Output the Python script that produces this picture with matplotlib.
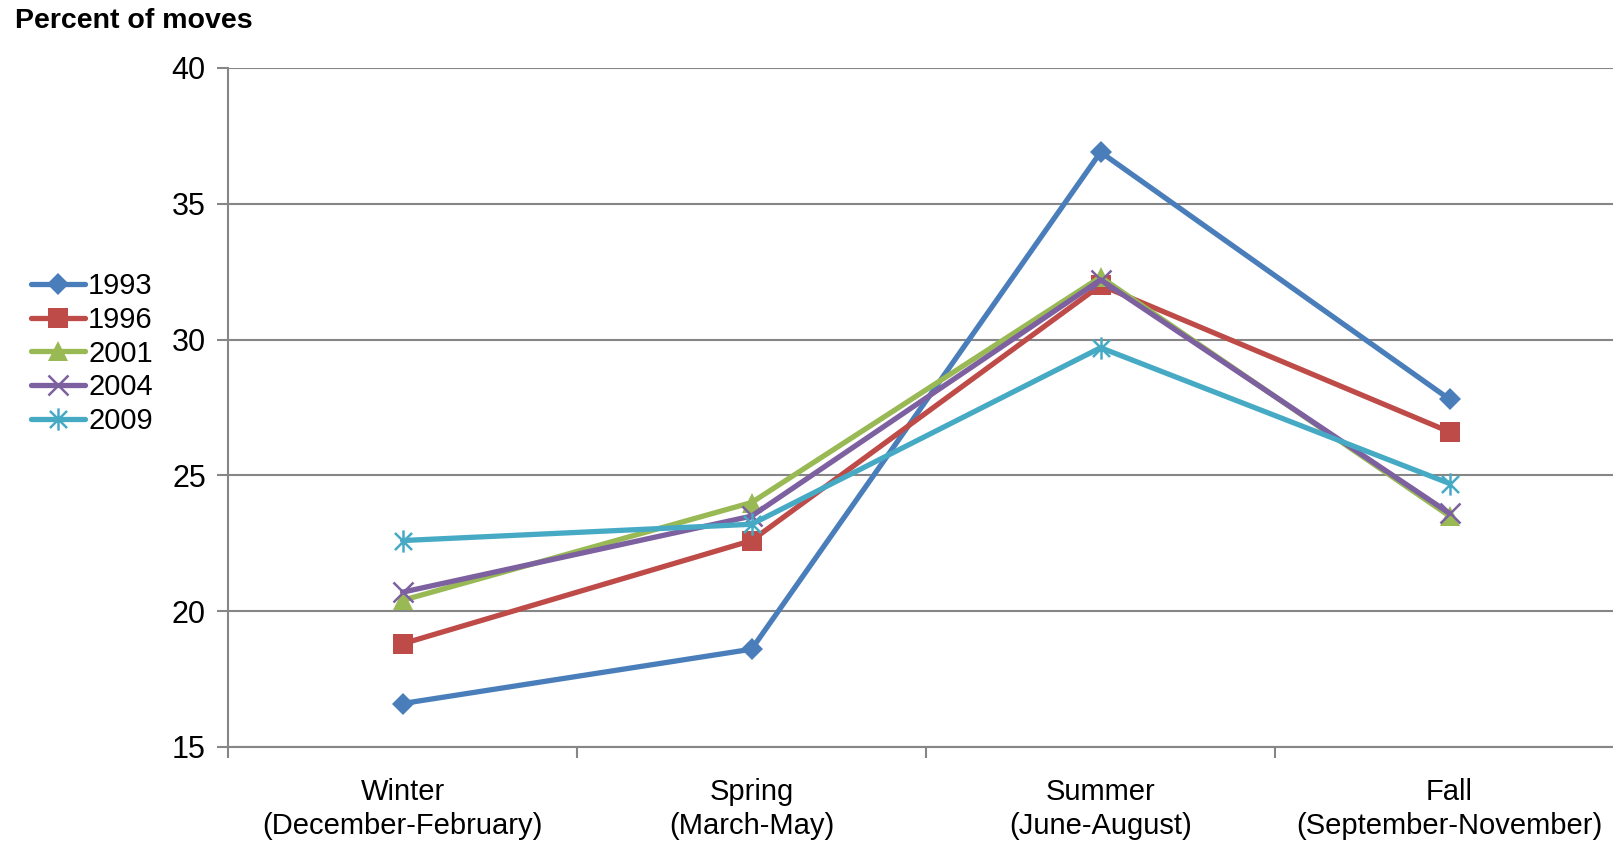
import matplotlib
matplotlib.use("Agg")
import matplotlib.pyplot as plt
from matplotlib.path import Path

plt.rcParams['font.family'] = ['Liberation Sans', 'DejaVu Sans']

seasons = ["Winter\n(December-February)", "Spring\n(March-May)",
           "Summer\n(June-August)", "Fall\n(September-November)"]
years = ["1993", "1996", "2001", "2004", "2009"]

pct_1993 = [16.6, 18.6, 36.9, 27.8]
pct_1996 = [18.8, 22.6, 32.0, 26.6]
pct_2001 = [20.4, 24.0, 32.3, 23.5]
pct_2004 = [20.7, 23.5, 32.2, 23.6]
pct_2009 = [22.6, 23.2, 29.7, 24.7]

# Excel-style asterisk: an x with a vertical bar through it
asterisk = Path([(-1, -1), (1, 1), (-1, 1), (1, -1), (0, -1.3), (0, 1.3)],
                [Path.MOVETO, Path.LINETO, Path.MOVETO, Path.LINETO,
                 Path.MOVETO, Path.LINETO])

series = [pct_1993, pct_1996, pct_2001, pct_2004, pct_2009]
colors = ["#4A7EBB", "#BE4B48", "#98B954", "#7D60A0", "#46AAC5"]
markers = ["D", "s", "^", "x", asterisk]
msizes = [11, 15, 14, 15, 16]
filled = [True, True, True, False, False]

fig = plt.figure(figsize=(16.13, 8.43), dpi=100)
ax = fig.add_axes([0.1414, 0.1139, 0.8655, 0.8055])

x = range(len(seasons))
for vals, yr, c, m, ms, f in zip(series, years, colors, markers, msizes, filled):
    ax.plot(x, vals, color=c, lw=3.8, marker=m, ms=ms, mew=0 if f else 1.8,
            mfc=c, mec=c, label=yr, solid_capstyle='round', zorder=3)

ax.set_xlim(-0.5, 3.5)
ax.set_ylim(15, 40)
ax.set_yticks([15, 20, 25, 30, 35, 40])
ax.set_xticks(list(x))
ax.set_xticklabels(seasons, fontsize=21, linespacing=1.27)
ax.set_xticks([-0.5, 0.5, 1.5, 2.5, 3.5], minor=True)
ax.tick_params(axis='x', which='major', length=0, pad=22.5)
ax.tick_params(axis='x', which='minor', length=8, width=1.5, color='#868686',
               direction='out')
ax.tick_params(axis='y', length=8, width=1.5, color='#868686', labelsize=22,
               pad=8)
ax.grid(axis='y', color='#868686', lw=1.5)
ax.set_axisbelow(True)
for s in ('top', 'right'):
    ax.spines[s].set_visible(False)
for s in ('left', 'bottom'):
    ax.spines[s].set_color('#868686')
    ax.spines[s].set_linewidth(1.5)

fig.text(0.009, 0.99, "Percent of moves", fontsize=20.5, fontweight='bold',
         va='top', ha='left')

fig.legend(loc='center left', bbox_to_anchor=(0.010, 0.5805), frameon=False,
           fontsize=21, handlelength=1.85, handletextpad=0.12, labelspacing=0.2,
           borderpad=0)

fig.savefig("out.png", dpi=100)
